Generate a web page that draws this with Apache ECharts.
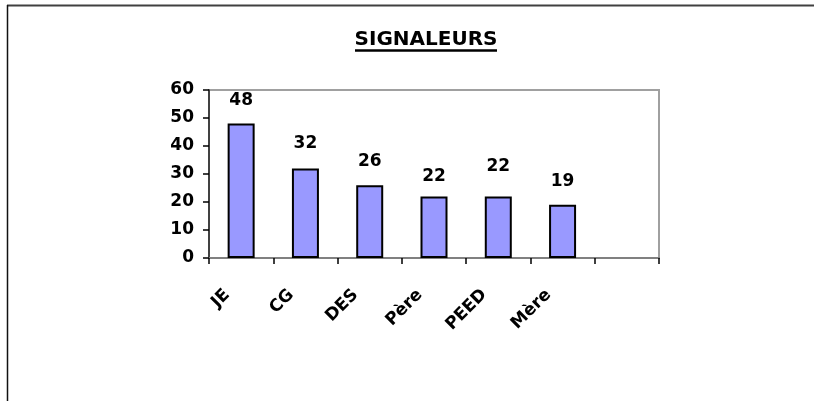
<!DOCTYPE html>
<html>
<head>
<meta charset="utf-8">
<script src="https://cdn.jsdelivr.net/npm/echarts@6/dist/echarts.min.js"></script>
<style>
html,body{margin:0;padding:0;background:#fff;}
#c{width:814px;height:401px;}
</style>
</head>
<body>
<div id="c"></div>
<script>
const titleText = 'SIGNALEURS';
const categories = ['JE', 'CG', 'DES', 'Père', 'PEED', 'Mère', ''];
const values = [48, 32, 26, 22, 22, 19, null];
const yTicks = { min: 0, max: 60, interval: 10 };
// label gap above each bar (style only)
const labelGaps = [15, 16, 15, 11, 21, 15, 15];

const FONT = '"DejaVu Sans", sans-serif';
const chart = echarts.init(document.getElementById('c'), null, { renderer: 'canvas' });

chart.setOption({
  animation: false,
  backgroundColor: '#ffffff',
  graphic: [
    { type: 'line', shape: { x1: 7, y1: 5.5, x2: 814, y2: 5.5 }, style: { stroke: '#404040', lineWidth: 2 } },
    { type: 'line', shape: { x1: 7.5, y1: 5, x2: 7.5, y2: 401 }, style: { stroke: '#111', lineWidth: 1.5 } },
    { type: 'text', x: 426, y: 30, style: { text: titleText, font: 'bold 20px ' + FONT, fill: '#000', align: 'center', verticalAlign: 'top' } },
    { type: 'line', shape: { x1: 355, y1: 50.5, x2: 497, y2: 50.5 }, style: { stroke: '#000', lineWidth: 2.5 } }
  ],
  grid: { left: 209, right: 155, top: 90, bottom: 143, show: true, borderColor: '#a0a0a0', borderWidth: 2, backgroundColor: 'transparent' },
  xAxis: {
    type: 'category',
    data: categories,
    boundaryGap: true,
    axisLine: { lineStyle: { color: '#808080', width: 2 } },
    axisTick: { show: true, length: 6, alignWithLabel: false, lineStyle: { color: '#000', width: 1.5 } },
    axisLabel: {
      rotate: 45, margin: 20, interval: 0, padding: [0, 20, 0, 0],
      fontFamily: FONT, fontWeight: 'bold', fontSize: 17, color: '#000'
    },
    splitLine: { show: false }
  },
  yAxis: {
    type: 'value',
    min: yTicks.min, max: yTicks.max, interval: yTicks.interval,
    axisLine: { show: true, lineStyle: { color: '#222', width: 1.5 } },
    axisTick: { show: true, length: 6, lineStyle: { color: '#000', width: 1.5 } },
    axisLabel: { margin: 15, fontFamily: FONT, fontWeight: 'bold', fontSize: 17, color: '#000' },
    splitLine: { show: false }
  },
  series: [{
    type: 'bar',
    barWidth: 27,
    data: values.map((v, i) => ({
      value: v,
      label: { distance: labelGaps[i] }
    })),
    itemStyle: { color: '#9999ff', borderColor: '#000', borderWidth: 2 },
    label: {
      show: true, position: 'top',
      fontFamily: FONT, fontWeight: 'bold', fontSize: 17, color: '#000',
      formatter: p => (p.value == null ? '' : p.value)
    }
  }]
});
</script>
</body>
</html>
